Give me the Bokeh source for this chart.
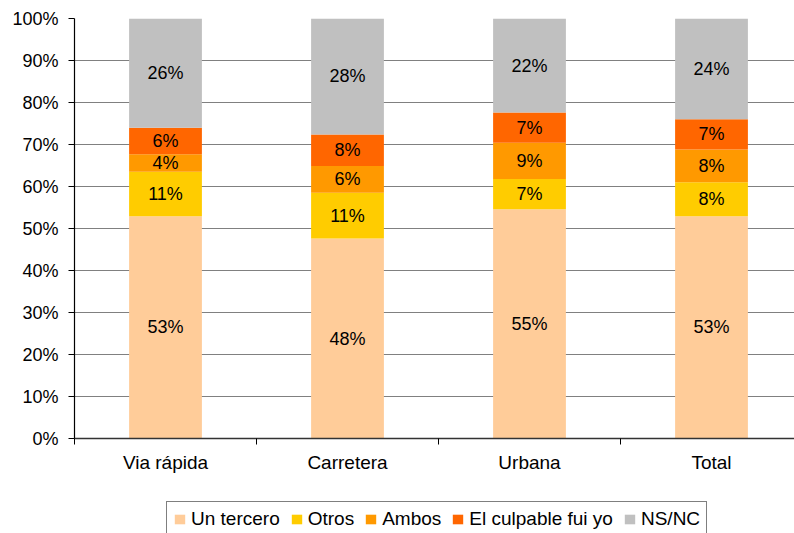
from bokeh.plotting import figure
from bokeh.layouts import column
from bokeh.models import (ColumnDataSource, FixedTicker, Legend, LegendItem,
                          LabelSet, Range1d)
from bokeh.core.properties import value
from bokeh.embed import file_html
from bokeh.resources import INLINE

categories = ["Via rápida", "Carretera", "Urbana", "Total"]
series = ["Un tercero", "Otros", "Ambos", "El culpable fui yo", "NS/NC"]
un_tercero = [52.9, 47.6, 54.6, 52.9]
otros = [10.6, 10.9, 7.2, 8.1]
ambos = [4.2, 6.4, 8.6, 7.8]
culpable = [6.3, 7.5, 7.2, 7.2]
nsnc = [26.0, 27.6, 22.4, 24.0]
y_ticks = [0, 10, 20, 30, 40, 50, 60, 70, 80, 90, 100]

colors = ["#FFCC99", "#FFCC00", "#FF9900", "#FF6600", "#C0C0C0"]
values = [un_tercero, otros, ambos, culpable, nsnc]

FONT = "Liberation Sans"
xs = list(range(len(categories)))

p = figure(width=794, height=490, output_backend="svg", toolbar_location=None,
           x_range=(-0.5, -0.5 + 720 / 182), y_range=(0, 100),
           min_border_left=74, min_border_right=0, min_border_top=18,
           min_border_bottom=52)
p.outline_line_color = None

# legend strip below the chart (shares the bar sources; its bars are hidden)
lg = figure(width=794, height=43, output_backend="svg", toolbar_location=None,
            x_range=p.x_range, y_range=Range1d(-3000, -2000),
            min_border_left=74, min_border_right=0, min_border_top=0,
            min_border_bottom=0)
lg.axis.visible = False
lg.grid.grid_line_color = None
lg.outline_line_color = None

bottom = [0.0] * len(categories)
items = []
for name, vals, col in zip(series, values, colors):
    top = [b + v for b, v in zip(bottom, vals)]
    mid = [(b + t) / 2 for b, t in zip(bottom, top)]
    src = ColumnDataSource(dict(x=xs, bottom=bottom, top=top, mid=mid,
                                lab=[f"{round(v)}%" for v in vals]))
    p.vbar(x="x", width=0.4, bottom="bottom", top="top", source=src,
           fill_color=col, line_color=None)
    p.add_layout(LabelSet(x="x", y="mid", text="lab", source=src,
                          text_align="center", text_baseline="middle",
                          text_font=value(FONT), text_font_size=value("18px"),
                          text_color="black"))
    r = lg.vbar(x="x", width=0.4, bottom="bottom", top="top", source=src,
                fill_color=col, line_color=None, visible=False)
    items.append(LegendItem(label=name, renderers=[r], index=0))
    bottom = top

# grid
p.xgrid.grid_line_color = None
p.ygrid.ticker = FixedTicker(ticks=y_ticks)
p.ygrid.grid_line_color = "#808080"
p.ygrid.grid_line_width = 1.2

# y axis
p.yaxis.ticker = FixedTicker(ticks=y_ticks)
p.yaxis.major_label_overrides = {t: f"{t}%" for t in y_ticks}
p.yaxis.major_label_text_font = FONT
p.yaxis.major_label_text_font_size = "18px"
p.yaxis.major_label_text_color = "black"
p.yaxis.major_tick_in = 0
p.yaxis.major_tick_out = 6
p.yaxis.minor_tick_line_color = None
p.yaxis.major_label_standoff = 10
p.yaxis.axis_line_color = "black"
p.yaxis.axis_line_width = 1.2

# x axis
p.xaxis.ticker = FixedTicker(ticks=xs, minor_ticks=[-0.5, 0.5, 1.5, 2.5, 3.5])
p.xaxis.major_label_overrides = {i: c for i, c in enumerate(categories)}
p.xaxis.major_tick_line_color = None
p.xaxis.minor_tick_in = 0
p.xaxis.minor_tick_out = 6
p.xaxis.minor_tick_line_color = "black"
p.xaxis.major_label_text_font = FONT
p.xaxis.major_label_text_font_size = "19px"
p.xaxis.major_label_text_color = "black"
p.xaxis.major_label_standoff = 7
p.xaxis.axis_line_color = "#333333"
p.xaxis.axis_line_width = 1.5

legend = Legend(items=items, orientation="horizontal", location=(92, -4),
                label_text_font=FONT, label_text_font_size="19px",
                label_text_color="black", glyph_width=13, glyph_height=12,
                label_standoff=5, spacing=10, padding=6, margin=0,
                border_line_color="black", border_line_width=1,
                background_fill_alpha=1, inactive_fill_alpha=0)
lg.add_layout(legend, "center")

layout = column(p, lg, spacing=0)
open("out.html", "w").write(file_html(layout, INLINE))
